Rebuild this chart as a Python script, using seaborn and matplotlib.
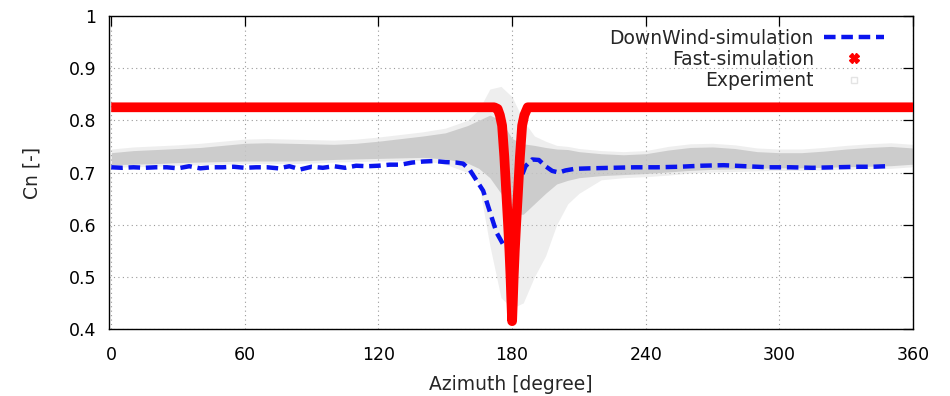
import numpy as np
import pandas as pd
import matplotlib
matplotlib.use("Agg")
import matplotlib.pyplot as plt
from matplotlib.lines import Line2D
import seaborn as sns

# ---- data ----
dw_az = [0, 5, 10, 15, 20, 25, 30, 35, 40, 45, 50, 55, 60, 65, 70, 75, 80, 85, 90, 95,
         100, 105, 110, 115, 120, 125, 130, 135, 140, 145, 150, 155, 158, 161, 164, 167,
         170, 173, 176, 178, 180, 182, 184, 186, 189, 192, 195, 198, 201, 204, 208, 215,
         225, 235, 245, 255, 265, 275, 285, 295, 305, 315, 325, 335, 342, 348]
dw_cn = [0.710, 0.709, 0.710, 0.709, 0.710, 0.710, 0.708, 0.712, 0.708, 0.710, 0.710, 0.711,
         0.709, 0.710, 0.710, 0.708, 0.712, 0.706, 0.711, 0.709, 0.712, 0.709, 0.713, 0.712,
         0.713, 0.715, 0.715, 0.719, 0.721, 0.722, 0.720, 0.719, 0.717, 0.705, 0.685, 0.665,
         0.625, 0.585, 0.562, 0.570, 0.600, 0.650, 0.690, 0.712, 0.725, 0.724, 0.712, 0.703,
         0.700, 0.704, 0.707, 0.708, 0.709, 0.710, 0.710, 0.711, 0.713, 0.714, 0.712, 0.710,
         0.710, 0.709, 0.710, 0.711, 0.711, 0.712]

fast_az = [0, 172, 173.5, 174.5, 175.5, 176.5, 177.4, 178.2, 178.8, 179.3, 179.7, 180,
           180.3, 180.7, 181.2, 181.8, 182.6, 183.5, 184.5, 185.5, 187, 360]
fast_cn = [0.825, 0.825, 0.822, 0.81, 0.79, 0.73, 0.66, 0.60, 0.55, 0.50, 0.45, 0.415,
           0.45, 0.50, 0.55, 0.60, 0.66, 0.73, 0.79, 0.81, 0.825, 0.825]

exp_az = [0, 10, 20, 30, 40, 50, 60, 70, 80, 90, 100, 110, 120, 130, 140, 150, 160, 165,
          170, 175, 180, 185, 190, 195, 200, 205, 210, 220, 230, 240, 250, 260, 270, 280,
          290, 300, 310, 320, 330, 340, 350, 360]
exp_lo = [0.715, 0.716, 0.717, 0.719, 0.720, 0.721, 0.722, 0.722, 0.722, 0.723, 0.725,
          0.726, 0.727, 0.728, 0.729, 0.726, 0.718, 0.708, 0.690, 0.660, 0.620, 0.620,
          0.640, 0.660, 0.678, 0.685, 0.690, 0.694, 0.696, 0.698, 0.701, 0.704, 0.706,
          0.707, 0.708, 0.709, 0.709, 0.710, 0.711, 0.712, 0.713, 0.716]
exp_hi = [0.738, 0.742, 0.744, 0.746, 0.748, 0.752, 0.756, 0.757, 0.756, 0.755, 0.754,
          0.756, 0.760, 0.765, 0.770, 0.776, 0.790, 0.800, 0.810, 0.800, 0.765, 0.755,
          0.752, 0.748, 0.745, 0.744, 0.740, 0.736, 0.734, 0.736, 0.743, 0.748, 0.749,
          0.746, 0.740, 0.738, 0.738, 0.741, 0.745, 0.748, 0.750, 0.747]
exp_out_lo = [0.710, 0.711, 0.712, 0.714, 0.715, 0.716, 0.717, 0.717, 0.717, 0.718, 0.720,
              0.721, 0.722, 0.723, 0.723, 0.716, 0.700, 0.680, 0.560, 0.460, 0.440, 0.450,
              0.500, 0.540, 0.600, 0.640, 0.660, 0.686, 0.690, 0.692, 0.695, 0.699, 0.701,
              0.702, 0.703, 0.704, 0.704, 0.705, 0.706, 0.707, 0.708, 0.711]
exp_out_hi = [0.745, 0.749, 0.751, 0.753, 0.756, 0.760, 0.764, 0.765, 0.764, 0.763, 0.762,
              0.764, 0.768, 0.773, 0.778, 0.785, 0.800, 0.820, 0.860, 0.865, 0.845, 0.800,
              0.770, 0.760, 0.752, 0.750, 0.746, 0.742, 0.740, 0.742, 0.750, 0.755, 0.756,
              0.753, 0.747, 0.745, 0.745, 0.748, 0.752, 0.755, 0.757, 0.754]

x_ticks = [0, 60, 120, 180, 240, 300, 360]
y_ticks = [0.4, 0.5, 0.6, 0.7, 0.8, 0.9, 1.0]
y_ticklabels = ["0.4", "0.5", "0.6", "0.7", "0.8", "0.9", "1"]

# ---- plotting ----
sns.set_style("white")
plt.rcParams["font.family"] = ["DejaVu Sans"]
plt.rcParams["font.size"] = 12.5

fig = plt.figure(figsize=(9.5, 3.96), dpi=100)
ax = fig.add_axes([109 / 950, 1 - 329 / 396, (913 - 109) / 950, (329 - 16) / 396])

dw = pd.DataFrame({"az": dw_az, "cn": dw_cn})
fast = pd.DataFrame({"az": fast_az, "cn": fast_cn})

# Experiment cloud
ax.fill_between(exp_az, exp_out_lo, exp_out_hi, color="#cfcfcf", alpha=0.35, lw=0, zorder=2)
ax.fill_between(exp_az, exp_lo, exp_hi, color="#c4c4c4", alpha=0.8, lw=0, zorder=2)

# DownWind simulation
sns.lineplot(data=dw, x="az", y="cn", ax=ax, color="#0a14ee", lw=3.2,
             linestyle=(0, (2.6, 1.3)), zorder=3, sort=False)

# Fast simulation
sns.lineplot(data=fast, x="az", y="cn", ax=ax, color="#ff0000", lw=7,
             zorder=4, sort=False, solid_joinstyle="round", solid_capstyle="butt")

ax.set_xlim(-1, 360)
ax.set_ylim(0.4, 1.0)
ax.set_xticks(x_ticks)
ax.set_xticklabels([str(v) for v in x_ticks])
ax.set_yticks(y_ticks)
ax.set_yticklabels(y_ticklabels)
ax.set_xlabel("Azimuth [degree]", labelpad=8, fontsize=13.5)
ax.set_ylabel("Cn [-]", labelpad=20, fontsize=13.5)

ax.grid(True, color="#9a9a9a", lw=0.8, linestyle=(0, (1, 3)))
ax.tick_params(direction="in", length=7, width=0.9, top=True, right=True,
               colors="black")
ax.tick_params(axis="x", pad=12)
ax.tick_params(axis="y", pad=9)
for s in ax.spines.values():
    s.set_color("black")
    s.set_linewidth(1.0)

handles = [
    Line2D([], [], color="#0a14ee", lw=3.2, linestyle=(0, (2.6, 1.3))),
    Line2D([], [], color="#ff0000", lw=0, marker="X", markersize=7),
    Line2D([], [], color="#e4e4e4", lw=0, marker="s", markersize=5,
           markerfacecolor="none", markeredgecolor="#e4e4e4"),
]
labels = ["DownWind-simulation", "Fast-simulation", "Experiment"]
ax.legend(handles, labels, loc="upper right", bbox_to_anchor=(0.985, 1.013),
          frameon=False, markerfirst=False, handlelength=3.2, handletextpad=0.55,
          labelspacing=0.12, fontsize=13.5)

fig.savefig("out.png", dpi=100)
